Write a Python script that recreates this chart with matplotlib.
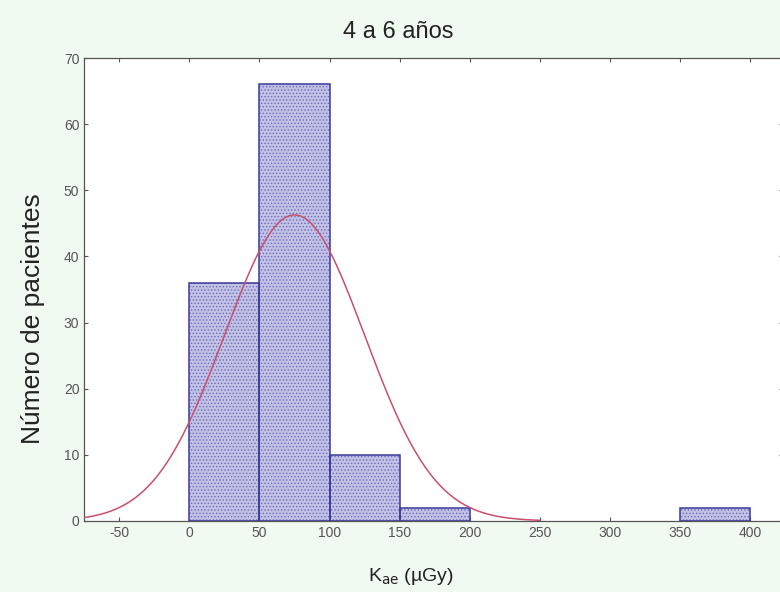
import numpy as np
import matplotlib
matplotlib.use("Agg")
import matplotlib.pyplot as plt

plt.rcParams['font.family'] = ['Liberation Sans', 'DejaVu Sans']
plt.rcParams['hatch.linewidth'] = 0.6
plt.rcParams['axes.unicode_minus'] = False

# histogram of Kae values, bins of 50 µGy
bin_edges = [0, 50, 100, 150, 200, 250, 300, 350, 400]
counts = [36, 66, 10, 2, 0, 0, 0, 2]

# fitted normal curve parameters
fit_mean = 75.0
fit_std = 50.0

xticks = [-50, 0, 50, 100, 150, 200, 250, 300, 350, 400]
yticks = [0, 10, 20, 30, 40, 50, 60, 70]

fig = plt.figure(figsize=(7.8, 5.92), dpi=100)
fig.patch.set_facecolor('#f1faf1')
ax = fig.add_axes([0.108, 0.12, 0.896, 0.782])
ax.set_facecolor('white')

lefts = np.array(bin_edges[:-1])
widths = np.diff(bin_edges)
for l, w, c in zip(lefts, widths, counts):
    if c == 0:
        continue
    ax.bar(l, c, width=w, align='edge', color='#c2c2e6', edgecolor='#6a6ab8',
           hatch='.....', linewidth=0, zorder=2)
    ax.bar(l, c, width=w, align='edge', fill=False, edgecolor='#3a3a9a',
           linewidth=1.1, zorder=3)

n_total = sum(counts)
xs = np.linspace(-75, 250, 500)
pdf = np.exp(-0.5 * ((xs - fit_mean) / fit_std) ** 2) / (fit_std * np.sqrt(2 * np.pi))
ax.plot(xs, pdf * n_total * 50, color='#c8506e', linewidth=1.1, zorder=4)

ax.set_xlim(-75, 423.5)
ax.set_ylim(0, 70)
ax.set_xticks(xticks)
ax.set_yticks(yticks)
ax.tick_params(direction='in', length=3, colors='#555555', labelsize=10,
               top=True, right=True, width=0.8)
for s in ax.spines.values():
    s.set_color('#555555')
    s.set_linewidth(0.9)

fig.text(0.51, 0.946, '4 a 6 años', fontsize=17, color='#222222',
         ha='center', va='center')
ax.set_xlabel('K$_{\\mathrm{ae}}$ (µGy)', fontsize=14, color='#222222', va='center')
ax.xaxis.set_label_coords(0.468, -0.121)
ax.set_ylabel('Número de pacientes', fontsize=19, color='#222222', va='center')
ax.yaxis.set_label_coords(-0.073, 0.438)

fig.savefig('out.png', dpi=100, facecolor=fig.get_facecolor())
